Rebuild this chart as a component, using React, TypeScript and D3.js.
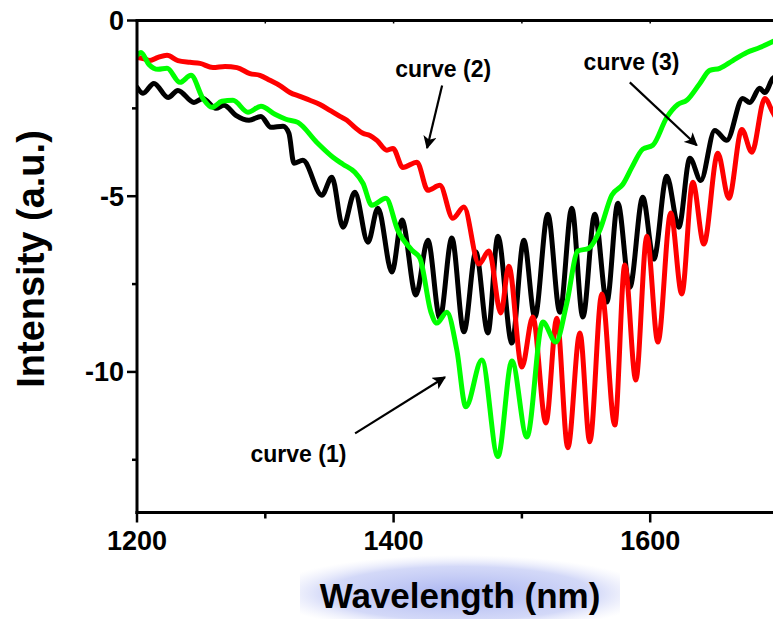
import React from "react";
import * as d3 from "d3";

// ---------- data (wavelength nm, intensity a.u.) ----------
const curve3Wl = [1200, 1204.7, 1213.2, 1224.2, 1231.9, 1244.4, 1251.4, 1261.5, 1267.8, 1277.1, 1287.3, 1296.6, 1304.4, 1313.8, 1318.4, 1322.3, 1329.3, 1344.1, 1351.9, 1360.5, 1369.8, 1380.0, 1387.8, 1398.7, 1406.5, 1417.4, 1426.7, 1436.1, 1445.4, 1454.8, 1464.1, 1473.5, 1481.3, 1492.2, 1501.5, 1510.1, 1520.2, 1529.6, 1538.9, 1547.5, 1556.8, 1566.2, 1574.8, 1584.1, 1594.2, 1602.8, 1612.9, 1622.3, 1630.9, 1639.4, 1650.3, 1659.7, 1672.1, 1677.6, 1685.4, 1689.3, 1695.5, 1700];
const curve3Val = [-1.90, -2.07, -1.79, -2.19, -1.99, -2.33, -2.22, -2.50, -2.41, -2.70, -2.84, -2.73, -3.04, -3.01, -3.21, -4.06, -3.98, -4.97, -4.46, -5.88, -4.89, -6.31, -5.34, -7.16, -5.68, -7.81, -6.25, -8.47, -6.19, -8.86, -6.59, -8.89, -6.14, -9.18, -6.25, -8.44, -5.51, -8.30, -5.34, -8.44, -5.51, -8.01, -5.20, -7.59, -5.03, -6.79, -4.43, -5.88, -3.92, -4.55, -3.13, -3.41, -2.22, -2.33, -1.93, -2.05, -1.65, -1.55];

const curve2Wl = [1200, 1204.7, 1210.1, 1216.4, 1223.4, 1231.9, 1241.3, 1249.1, 1259.2, 1268.6, 1277.9, 1288.0, 1295.8, 1303.6, 1311.4, 1319.2, 1327.0, 1334.8, 1342.6, 1350.4, 1358.2, 1363.6, 1369.8, 1376.1, 1381.5, 1387.0, 1394.8, 1399.5, 1407.2, 1418.2, 1426.7, 1436.1, 1446.2, 1454.8, 1466.5, 1474.3, 1483.6, 1489.8, 1500.0, 1508.5, 1518.7, 1527.2, 1535.8, 1545.2, 1552.9, 1562.3, 1572.4, 1580.2, 1588.8, 1597.4, 1606.0, 1616.0, 1624.6, 1633.2, 1641.8, 1652.7, 1661.3, 1671.4, 1679.2, 1689.3, 1695.5, 1700];
const curve2Val = [-1.05, -1.08, -1.14, -1.05, -0.99, -1.14, -1.19, -1.22, -1.34, -1.31, -1.34, -1.51, -1.56, -1.70, -1.85, -2.05, -2.16, -2.27, -2.39, -2.56, -2.73, -2.84, -3.04, -3.21, -3.27, -3.41, -3.69, -3.64, -4.18, -4.03, -4.83, -4.69, -5.63, -5.31, -6.93, -6.56, -8.32, -6.99, -9.86, -8.44, -11.45, -8.47, -12.16, -8.89, -11.99, -7.78, -11.51, -6.96, -10.23, -6.14, -9.15, -5.48, -7.78, -4.60, -6.36, -3.78, -5.06, -3.10, -3.75, -2.22, -2.61, -2.9];

const curve1Wl = [1200, 1203.1, 1209.3, 1216.4, 1223.4, 1233.5, 1242.1, 1251.4, 1258.4, 1266.2, 1274.8, 1286.5, 1296.6, 1307.5, 1316.1, 1325.4, 1340.2, 1352.7, 1360.5, 1369.8, 1376.1, 1383.1, 1394.0, 1403.3, 1415.0, 1420.5, 1429.1, 1433.7, 1441.5, 1449.3, 1456.3, 1468.8, 1481.3, 1492.2, 1503.9, 1516.3, 1526.4, 1535.0, 1543.6, 1552.2, 1560.7, 1570.1, 1578.7, 1585.7, 1594.2, 1602.0, 1612.9, 1621.5, 1628.5, 1638.7, 1646.4, 1654.2, 1664.4, 1675.3, 1685.4, 1695.5, 1700];
const curve1Val = [-0.99, -0.91, -1.25, -1.39, -1.36, -1.76, -1.56, -2.22, -2.47, -2.30, -2.27, -2.61, -2.44, -2.67, -2.81, -2.90, -3.47, -3.89, -4.09, -4.32, -4.63, -5.26, -5.06, -5.97, -6.56, -6.76, -8.30, -8.61, -8.30, -9.38, -10.99, -9.66, -12.41, -9.69, -11.85, -8.58, -9.15, -8.04, -6.56, -6.48, -5.97, -4.97, -4.66, -4.18, -3.66, -3.55, -2.76, -2.39, -2.27, -1.79, -1.42, -1.36, -1.14, -0.91, -0.77, -0.60, -0.52];

const xTicks = [1200, 1400, 1600];
const xMinorTicks = [1300, 1500, 1700];
const yTicks = [0, -5, -10];
const yMinorTicks = [-2.5, -7.5, -12.5];

// annotations: label, text anchor point (wl, val), arrow tail and tip (wl, val)
const annotLabels = ["curve (1)", "curve (2)", "curve (3)"];
const annotTextPos = [[1288.5, -12.57], [1401.3, -1.62], [1446.7, -1.42]];
const annotArrowFrom = [[1370, -11.75], [1437.8, -1.85], [1383.5 + 0 * 0 + 207.5 - 207.5 + 0, -1.76]];
const annotArrowTo = [[1440, -10.15], [1426.1, -3.63], [1434.6 + 0, -3.55]];

const W = 773;
const H = 619;
const FONT = "'Liberation Sans', Arial, Helvetica, sans-serif";

export default function App() {
  const x = d3.scaleLinear().domain([1200, 1700]).range([137, 778.5]);
  const y = d3.scaleLinear().domain([-14, 0]).range([512.5, 20.5]);

  const line = d3
    .line<[number, number]>()
    .x((d) => x(d[0]))
    .y((d) => y(d[1]))
    .curve(d3.curveMonotoneX);

  const series = [
    { wl: curve3Wl, val: curve3Val, color: "#000000" },
    { wl: curve2Wl, val: curve2Val, color: "#ff0000" },
    { wl: curve1Wl, val: curve1Val, color: "#00ff00" },
  ];

  // fix arrow for curve (3) to its own values
  const arrowFrom = [annotArrowFrom[0], annotArrowFrom[1], [1584.1, -1.76]];
  const arrowTo = [annotArrowTo[0], annotArrowTo[1], [1636.3, -3.55]];
  const textPos = [annotTextPos[0], annotTextPos[1], [1548.1, -1.42]];

  const xl = x.range()[0];
  const yb = y.range()[0];
  const yt = y.range()[1];

  return (
    <svg
      width={W}
      height={H}
      style={{ position: "absolute", left: 0, top: 0, background: "#fff" }}
      fontFamily={FONT}
    >
      <defs>
        <clipPath id="plotClip">
          <rect x={xl} y={yt} width={W - xl} height={yb - yt} />
        </clipPath>
        <marker id="arrowHead" viewBox="0 0 10 10" refX="9" refY="5" markerWidth="6" markerHeight="6" orient="auto">
          <path d="M0,0 L10,5 L0,10 L2.5,5 Z" fill="#000" />
        </marker>
        <radialGradient id="wm" cx="50%" cy="60%" r="60%">
          <stop offset="0%" stopColor="#9aa6ee" stopOpacity="0.85" />
          <stop offset="70%" stopColor="#b6bff3" stopOpacity="0.6" />
          <stop offset="100%" stopColor="#d8dcf8" stopOpacity="0" />
        </radialGradient>
      </defs>

      {/* watermark behind x label */}
      <rect x={300} y={555} width={320} height={64} fill="url(#wm)" />

      {/* data lines */}
      <g clipPath="url(#plotClip)">
        {series.map((s, i) => (
          <path
            key={i}
            d={line(s.wl.map((w, j) => [w, s.val[j]] as [number, number])) || ""}
            fill="none"
            stroke={s.color}
            strokeWidth={5}
            strokeLinejoin="round"
            strokeLinecap="round"
          />
        ))}
      </g>

      {/* axes */}
      <g stroke="#000" strokeWidth={3} fill="none">
        <line x1={xl} y1={yt} x2={xl} y2={yb + 1.5} />
        <line x1={xl - 1.5} y1={yb} x2={W} y2={yb} />
        <line x1={xl - 1.5} y1={yt} x2={W} y2={yt} />
      </g>
      <g stroke="#000" strokeWidth={2.5}>
        {xTicks.map((t) => (
          <line key={"xt" + t} x1={x(t)} x2={x(t)} y1={yb} y2={yb + 10} />
        ))}
        {xMinorTicks.map((t) => (
          <line key={"xm" + t} x1={x(t)} x2={x(t)} y1={yb} y2={yb + 6} />
        ))}
        {xTicks.concat(xMinorTicks).map((t) => (
          <line key={"xtt" + t} x1={x(t)} x2={x(t)} y1={yt} y2={yt + 3} strokeWidth={1.5} />
        ))}
        {yTicks.map((t) => (
          <line key={"yt" + t} x1={xl - 10} x2={xl} y1={y(t)} y2={y(t)} />
        ))}
        {yMinorTicks.map((t) => (
          <line key={"ym" + t} x1={xl - 5} x2={xl} y1={y(t)} y2={y(t)} />
        ))}
      </g>

      {/* tick labels */}
      <g fontWeight="bold" fontSize={27} fill="#000">
        {xTicks.map((t) => (
          <text key={"xl" + t} x={x(t)} y={550} textAnchor="middle">
            {t}
          </text>
        ))}
        {yTicks.map((t) => (
          <text key={"yl" + t} x={124} y={y(t) + 9.5} textAnchor="end">
            {t}
          </text>
        ))}
      </g>

      {/* axis titles */}
      <text
        x={460}
        y={608}
        textAnchor="middle"
        fontWeight="bold"
        fontSize={35}
        fill="#000"
      >
        Wavelength (nm)
      </text>
      <text
        transform={`translate(44, 259) rotate(-90)`}
        textAnchor="middle"
        fontWeight="bold"
        fontSize={38}
        fill="#000"
      >
        Intensity (a.u.)
      </text>

      {/* annotations */}
      <g>
        {annotLabels.map((lab, i) => (
          <g key={lab}>
            <text
              x={x(textPos[i][0])}
              y={y(textPos[i][1])}
              fontWeight="bold"
              fontSize={23}
              fill="#000"
            >
              {lab}
            </text>
            <line
              x1={x(arrowFrom[i][0])}
              y1={y(arrowFrom[i][1])}
              x2={x(arrowTo[i][0])}
              y2={y(arrowTo[i][1])}
              stroke="#000"
              strokeWidth={2.2}
              markerEnd="url(#arrowHead)"
            />
          </g>
        ))}
      </g>
    </svg>
  );
}
